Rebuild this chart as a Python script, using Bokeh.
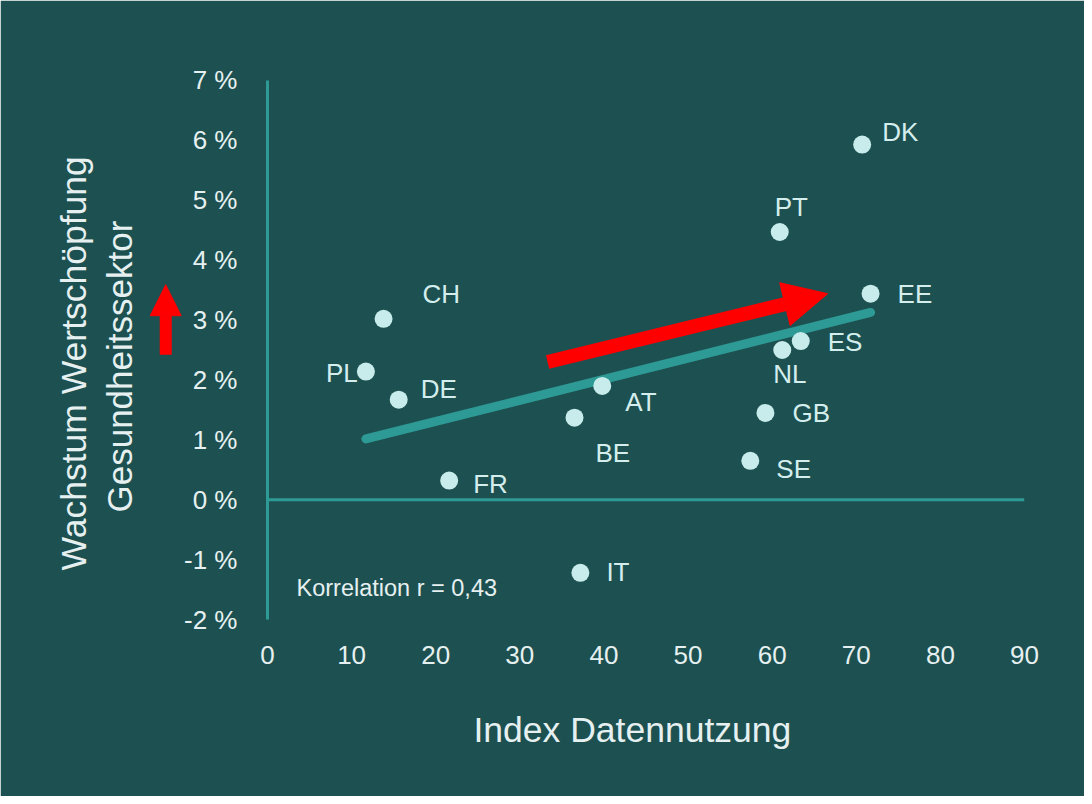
import numpy as np
from bokeh.plotting import figure
from bokeh.models import (ColumnDataSource, Arrow, NormalHead, Label, Title,
                          FixedTicker, Range1d)
from bokeh.core.properties import value
from bokeh.embed import file_html
from bokeh.resources import INLINE

# ---- data ----
countries = ["DK", "PT", "EE", "ES", "NL", "GB", "SE", "AT", "BE", "IT", "FR", "CH", "PL", "DE"]
data_index = [70.7, 60.9, 71.7, 63.4, 61.2, 59.2, 57.4, 39.8, 36.5, 37.2, 21.6, 13.8, 11.7, 15.6]
growth = [5.93, 4.47, 3.44, 2.65, 2.50, 1.45, 0.65, 1.90, 1.37, -1.22, 0.32, 3.02, 2.14, 1.67]
x_ticks = [0, 10, 20, 30, 40, 50, 60, 70, 80, 90]
y_ticks = [-2, -1, 0, 1, 2, 3, 4, 5, 6, 7]
y_tick_labels = ["-2 %", "-1 %", "0 %", "1 %", "2 %", "3 %", "4 %", "5 %", "6 %", "7 %"]
x_title = "Index Datennutzung"
y_title_lines = ["Wachstum Wertschöpfung", "Gesundheitssektor"]

# label placement (screen pixel offsets, layout only)
label_dx = [20, -5, 27, 27, -9, 27, 26, 23, 21, 26, 24, 39, -40, 22]
label_dy = [-13, -25, 0, 1, 24, 0, 8, 16, 35, -1, 3, -25, 1, -11]

BG = "#1d5050"
TEAL = "#2e9a96"
PT_COL = "#c8ecec"
TXT = "#e6f0f0"
FONT = "Liberation Sans"

x = np.array(data_index)
y = np.array(growth)
slope, intercept = np.polyfit(x, y, 1)
r = np.corrcoef(x, y)[0, 1]
xs_fit = np.array([x.min(), x.max()])
ys_fit = slope * xs_fit + intercept

# frame extends beyond the axes so that the small arrow and the end tick labels fit
p = figure(width=1084, height=796, output_backend="svg", toolbar_location=None,
           x_range=Range1d(-14.86, 90), y_range=Range1d(-2.3, 7.3),
           min_border_left=142, min_border_right=60, min_border_top=62,
           min_border_bottom=159)
p.background_fill_color = BG
p.border_fill_color = BG
p.outline_line_color = BG
p.outline_line_width = 3
p.grid.visible = False

# axes
p.xaxis.ticker = FixedTicker(ticks=x_ticks)
p.yaxis.ticker = FixedTicker(ticks=y_ticks)
p.yaxis.major_label_overrides = {t: l for t, l in zip(y_ticks, y_tick_labels)}
p.yaxis.fixed_location = 0
p.yaxis.bounds = (y_ticks[0], y_ticks[-1])
for ax in (p.xaxis[0], p.yaxis[0]):
    ax.major_tick_line_color = None
    ax.minor_tick_line_color = None
    ax.major_label_text_color = TXT
    ax.major_label_text_font = FONT
    ax.major_label_text_font_size = "26px"
p.xaxis.major_label_standoff = 2
p.yaxis.major_label_standoff = 24
p.xaxis.axis_line_color = None
p.yaxis.axis_line_color = TEAL
p.yaxis.axis_line_width = 3

# axis titles
p.add_layout(Title(text=y_title_lines[1], align="left", offset=125, standoff=8,
                   text_color=TXT, text_font=FONT, text_font_size="35px",
                   text_font_style="normal"), "left")
p.add_layout(Title(text=y_title_lines[0], align="left", offset=67, standoff=0,
                   text_color=TXT, text_font=FONT, text_font_size="35.5px",
                   text_font_style="normal"), "left")
p.add_layout(Title(text=x_title, align="left", offset=331, standoff=82,
                   text_color=TXT, text_font=FONT, text_font_size="35.5px",
                   text_font_style="normal"), "below")

# zero line along the x range
p.line([x_ticks[0], x_ticks[-1]], [0, 0], line_color=TEAL, line_width=3)

# trend line
p.line(xs_fit, ys_fit, line_color=TEAL, line_width=9, line_cap="round")

# big red arrow
p.add_layout(Arrow(end=NormalHead(size=44, fill_color="red", line_color="red"),
                   x_start=33.3, y_start=2.30, x_end=66.6, y_end=3.44,
                   line_color="red", line_width=14))
# small red arrow next to the y axis
p.add_layout(Arrow(end=NormalHead(size=31, fill_color="red", line_color="red", line_width=1),
                   x_start=-12.1, y_start=2.42, x_end=-12.1, y_end=3.59,
                   line_color="red", line_width=12))

src = ColumnDataSource(dict(x=data_index, y=growth, label=countries,
                            dx=label_dx, dy=label_dy))
p.scatter("x", "y", source=src, size=18, fill_color=PT_COL, line_color=None)
p.text("x", "y", text="label", source=src, x_offset="dx", y_offset="dy",
       text_align="left", text_baseline="middle", text_color="#d4eeee",
       text_font=value(FONT), text_font_size="26px")

corr_text = "Korrelation r = " + f"{r:.2f}".replace(".", ",")
p.add_layout(Label(x=3.45, y=-1.47, text=corr_text, text_color=TXT,
                   text_font=FONT, text_font_size="23.5px",
                   text_baseline="middle", text_align="left"))

open("out.html", "w").write(file_html(p, INLINE))
